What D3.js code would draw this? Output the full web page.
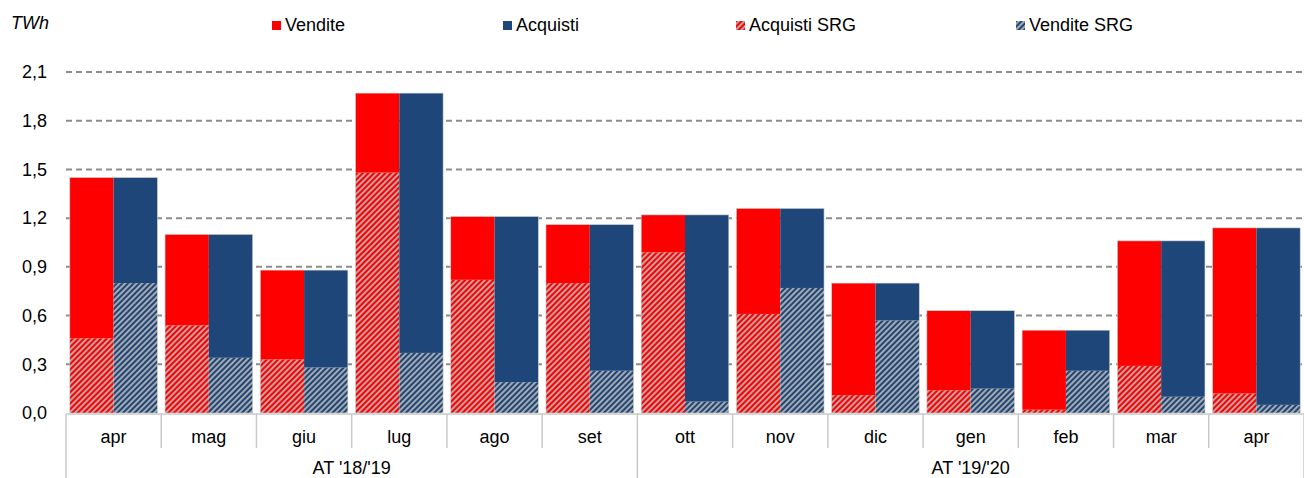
<!DOCTYPE html>
<html>
<head>
<meta charset="utf-8">
<script src="https://cdn.jsdelivr.net/npm/d3@7"></script>
<style>
  body { margin: 0; background: #fff; }
  svg { display: block; font-family: "Liberation Sans", Arial, sans-serif; }
</style>
</head>
<body>
<div id="chart"></div>
<script>

// Data
var months = ["apr", "mag", "giu", "lug", "ago", "set", "ott", "nov", "dic", "gen", "feb", "mar", "apr"];
var years = ["AT '18/'19", "AT '19/'20"];
var yearSpan = [6, 7];

var vendite = [1.45, 1.10, 0.88, 1.97, 1.21, 1.16, 1.22, 1.26, 0.80, 0.63, 0.51, 1.06, 1.14];
var acquisti = [1.45, 1.10, 0.88, 1.97, 1.21, 1.16, 1.22, 1.26, 0.80, 0.63, 0.51, 1.06, 1.14];
var acquistiSRG = [0.46, 0.54, 0.33, 1.48, 0.82, 0.80, 0.99, 0.61, 0.11, 0.14, 0.02, 0.29, 0.12];
var venditeSRG = [0.80, 0.34, 0.28, 0.37, 0.19, 0.26, 0.07, 0.77, 0.57, 0.15, 0.26, 0.10, 0.05];

var yTicks = [0, 0.3, 0.6, 0.9, 1.2, 1.5, 1.8, 2.1];

var width = 1304,
  height = 478;
var margin = {top: 72, right: 0, bottom: 65, left: 66};
var fontSize = 18;

var red = "#ff0000",
  blue = "#1f4678";

var svg = d3.select("#chart").append("svg")
  .attr("width", width)
  .attr("height", height);

// hatch patterns
var defs = svg.append("defs");
function hatch(id, color) {
  var p = defs.append("pattern")
    .attr("id", id)
    .attr("patternUnits", "userSpaceOnUse")
    .attr("width", 4)
    .attr("height", 4)
    .attr("patternTransform", "rotate(45)");
  p.append("rect").attr("width", 4).attr("height", 4).attr("fill", color);
  p.append("rect").attr("width", 1.8).attr("height", 4).attr("fill", "#b4b4b4");
}
hatch("hatchRed", red);
hatch("hatchBlue", blue);

var x = d3.scaleBand()
  .domain(d3.range(months.length))
  .range([margin.left, width - margin.right])
  .paddingInner(0.08)
  .paddingOuter(0.04);

var xSub = d3.scaleBand()
  .domain([0, 1])
  .range([0, x.bandwidth()]);

var y = d3.scaleLinear()
  .domain([0, 2.1])
  .range([height - margin.bottom, margin.top]);

// grid
svg.append("g")
  .selectAll("line")
  .data(yTicks.slice(1))
  .enter().append("line")
    .attr("x1", margin.left)
    .attr("x2", width)
    .attr("y1", function(d) { return y(d); })
    .attr("y2", function(d) { return y(d); })
    .attr("stroke", "#8c8c8c")
    .attr("stroke-width", 2)
    .attr("stroke-dasharray", "6,4");

// y axis labels
var yAxis = d3.axisLeft(y)
  .tickValues(yTicks)
  .tickSize(0)
  .tickPadding(19)
  .tickFormat(function(d) { return d3.format(".1f")(d).replace(".", ","); });

svg.append("g")
  .attr("transform", "translate(" + margin.left + ",0)")
  .call(yAxis)
  .call(function(g) { g.select(".domain").remove(); })
  .selectAll("text")
    .attr("font-size", fontSize)
    .attr("font-family", "Liberation Sans, Arial, sans-serif")
    .attr("fill", "#000");

// bars
var segments = [];
months.forEach(function(m, i) {
  segments.push({i: i, s: 0, y0: 0, y1: acquistiSRG[i], fill: "url(#hatchRed)"});
  segments.push({i: i, s: 0, y0: acquistiSRG[i], y1: vendite[i], fill: red});
  segments.push({i: i, s: 1, y0: 0, y1: venditeSRG[i], fill: "url(#hatchBlue)"});
  segments.push({i: i, s: 1, y0: venditeSRG[i], y1: acquisti[i], fill: blue});
});

svg.append("g")
  .attr("class", "bars")
  .selectAll("rect")
  .data(segments)
  .enter().append("rect")
    .attr("x", function(d) { return x(d.i) + xSub(d.s); })
    .attr("width", xSub.bandwidth())
    .attr("y", function(d) { return y(d.y1); })
    .attr("height", function(d) { return y(d.y0) - y(d.y1); })
    .attr("fill", function(d) { return d.fill; });

// thin outline around each bar
svg.append("g")
  .selectAll("rect")
  .data(d3.range(months.length))
  .enter().append("rect")
    .attr("x", function(i) { return x(i); })
    .attr("width", x.bandwidth())
    .attr("y", function(i) { return y(vendite[i]); })
    .attr("height", function(i) { return y(0) - y(vendite[i]); })
    .attr("fill", "none")
    .attr("stroke", "#d0d0d0")
    .attr("stroke-width", 0.6);

// category axis
var base = y(0) + 1;
var step = x.step();
var x0 = margin.left;
var axisG = svg.append("g").attr("stroke", "#c8c8c8").attr("stroke-width", 1.5);

axisG.append("line")
  .attr("x1", x0).attr("x2", width)
  .attr("y1", base).attr("y2", base);

var bounds = d3.range(months.length + 1).map(function(k) { return x0 + k * step; });
var groupBounds = [0, yearSpan[0], months.length];

bounds.forEach(function(bx, k) {
  var isGroup = groupBounds.indexOf(k) >= 0;
  axisG.append("line")
    .attr("x1", bx).attr("x2", bx)
    .attr("y1", base)
    .attr("y2", isGroup ? height : base + 34);
});

svg.append("g")
  .selectAll("text")
  .data(months)
  .enter().append("text")
    .attr("x", function(d, i) { return x0 + (i + 0.5) * step; })
    .attr("y", base + 29)
    .attr("text-anchor", "middle")
    .attr("font-size", fontSize)
    .text(function(d) { return d; });

svg.append("g")
  .selectAll("text")
  .data(years)
  .enter().append("text")
    .attr("x", function(d, i) {
      var a = bounds[groupBounds[i]], b = bounds[groupBounds[i + 1]];
      return (a + b) / 2;
    })
    .attr("y", base + 60)
    .attr("text-anchor", "middle")
    .attr("font-size", fontSize)
    .text(function(d) { return d; });

// unit label
svg.append("text")
  .attr("x", 11)
  .attr("y", 29)
  .attr("font-size", fontSize)
  .attr("font-style", "italic")
  .text("TWh");

// legend
var legend = [
  {label: "Vendite", fill: red, x: 272},
  {label: "Acquisti", fill: blue, x: 503},
  {label: "Acquisti SRG", fill: "url(#hatchRed)", x: 736},
  {label: "Vendite SRG", fill: "url(#hatchBlue)", x: 1016}
];

var lg = svg.append("g").selectAll("g")
  .data(legend)
  .enter().append("g")
    .attr("transform", function(d) { return "translate(" + d.x + ",0)"; });

lg.append("rect")
  .attr("y", 21)
  .attr("width", 9)
  .attr("height", 9)
  .attr("fill", function(d) { return d.fill; });

lg.append("text")
  .attr("x", 13)
  .attr("y", 31)
  .attr("font-size", fontSize)
  .text(function(d) { return d.label; });

</script>
</body>
</html>
